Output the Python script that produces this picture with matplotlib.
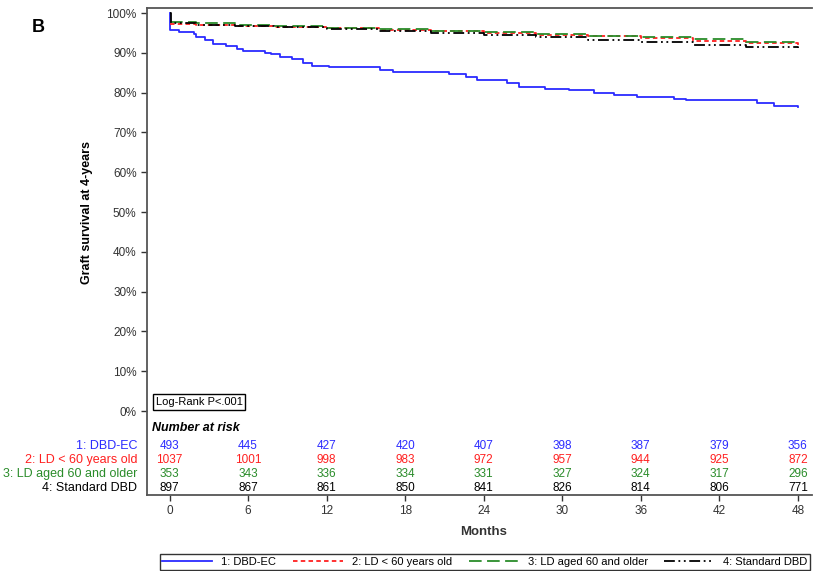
import matplotlib
matplotlib.use("Agg")
import matplotlib.pyplot as plt
import numpy as np

plt.rcParams['font.family'] = ['Liberation Sans', 'DejaVu Sans']

# survival curves (months, % surviving)
dbd_ec_m = [0, 0.07, 0.72, 1.87, 2.03, 2.68, 3.34, 4.32, 5.14, 5.63, 7.26, 7.75, 8.41, 9.39,
            10.2, 10.86, 12.17, 15.6, 16.1, 17.08, 20.84, 21.33, 22.64, 23.46, 25.75, 26.73,
            28.7, 30.5, 32.46, 33.93, 35.73, 37.04, 38.51, 39.49, 43.91, 44.89, 46.2, 48]
dbd_ec_s = [100, 95.8, 95.2, 94.8, 93.9, 93.1, 92.3, 91.8, 91.0, 90.4, 90.0, 89.6, 88.9, 88.5,
            87.4, 86.8, 86.4, 86.4, 85.8, 85.2, 85.2, 84.6, 83.8, 83.1, 82.4, 81.4,
            81.0, 80.6, 80.0, 79.3, 78.9, 78.8, 78.3, 78.1, 78.1, 77.3, 76.7, 76.3]

ld_m = [0, 2, 5, 8, 12, 16, 20, 24, 28, 32, 36, 40, 44, 48]
ld_young_s = [97.3, 97.0, 96.8, 96.5, 96.2, 95.8, 95.4, 95.0, 94.6, 94.1, 93.6, 93.0, 92.4, 91.8]
ld_old_s = [97.8, 97.4, 97.1, 96.7, 96.3, 95.9, 95.5, 95.2, 94.8, 94.3, 93.9, 93.4, 92.8, 92.1]

std_m = [0, 0.1, 2, 5, 8, 12, 16, 20, 24, 28, 32, 36, 40, 44, 48]
std_s = [100, 97.4, 97.1, 96.8, 96.4, 96.0, 95.6, 95.1, 94.6, 94.0, 93.3, 92.6, 92.0, 91.5, 91.2]

# number at risk table
risk_months = [0, 6, 12, 18, 24, 30, 36, 42, 48]
risk_dbd_ec = [493, 445, 427, 420, 407, 398, 387, 379, 356]
risk_ld_young = [1037, 1001, 998, 983, 972, 957, 944, 925, 872]
risk_ld_old = [353, 343, 336, 334, 331, 327, 324, 317, 296]
risk_std = [897, 867, 861, 850, 841, 826, 814, 806, 771]

labels = ['1: DBD-EC', '2: LD < 60 years old', '3: LD aged 60 and older', '4: Standard DBD']
colors = ['#2b2bff', '#ff2020', '#2a8c2a', '#000000']

fig = plt.figure(figsize=(8.14, 5.71), dpi=100)
ax = fig.add_axes([147/814, 1 - 495/571, (812 - 147)/814, (495 - 8)/571])

l1, = ax.plot(dbd_ec_m, dbd_ec_s, drawstyle='steps-post', color=colors[0], lw=1.3)
l2, = ax.plot(ld_m, ld_young_s, drawstyle='steps-post', color=colors[1], lw=1.3,
              linestyle=(0, (2.5, 1.8)))
l3, = ax.plot(ld_m, ld_old_s, drawstyle='steps-post', color=colors[2], lw=1.3,
              linestyle=(0, (7, 3)))
l4, = ax.plot(std_m, std_s, drawstyle='steps-post', color=colors[3], lw=1.3,
              linestyle=(0, (6, 2, 1, 2, 1, 2)))

ax.set_xlim(-1.72, 49.08)
ax.set_ylim(-21.1, 101.26)
ax.set_xticks(np.arange(0, 49, 6))
ax.set_yticks(np.arange(0, 101, 10))
ax.set_yticklabels([f'{v}%' for v in range(0, 101, 10)])
ax.tick_params(labelsize=8.5, colors='#333333', length=4, width=1)
ax.spines['right'].set_visible(False)
for s in ['left', 'top', 'bottom']:
    ax.spines[s].set_color('#555555')
    ax.spines[s].set_linewidth(1.3)

fig.text(87/814, 1 - 212/571, 'Graft survival at 4-years', rotation=90, ha='center', va='center',
         fontsize=9, fontweight='bold')
fig.text(484/814, 1 - 532/571, 'Months', ha='center', va='center', fontsize=9.5,
         fontweight='bold', color='#333333')
fig.text(38/814, 1 - 27/571, 'B', ha='center', va='center', fontsize=13, fontweight='bold')

ax.text(-1.05, 2.3, 'Log-Rank P<.001', fontsize=8, va='center', ha='left',
        bbox=dict(boxstyle='square,pad=0.25', fc='white', ec='black', lw=1))
ax.text(-1.35, -4.3, 'Number at risk', fontsize=9, fontweight='bold', fontstyle='italic',
        va='center', ha='left')

row_y = [-8.8, -12.3, -15.8, -19.3]
for rows, lab, c, y in zip([risk_dbd_ec, risk_ld_young, risk_ld_old, risk_std], labels, colors, row_y):
    ax.text(-2.48, y, lab, color=c, fontsize=9, ha='right', va='center', clip_on=False)
    for m, n in zip(risk_months, rows):
        ax.text(m, y, str(n), color=c, fontsize=8.5, ha='center', va='center')

leg = fig.legend([l1, l2, l3, l4], labels, loc='center', bbox_to_anchor=(485/814, 1 - 562/571),
                 ncol=4, fontsize=8, frameon=True, fancybox=False, handlelength=4.5,
                 columnspacing=1.5, borderpad=0.25, handletextpad=0.8)
leg.get_frame().set_edgecolor('black')
leg.get_frame().set_linewidth(1)

fig.savefig('out.png', dpi=100)
